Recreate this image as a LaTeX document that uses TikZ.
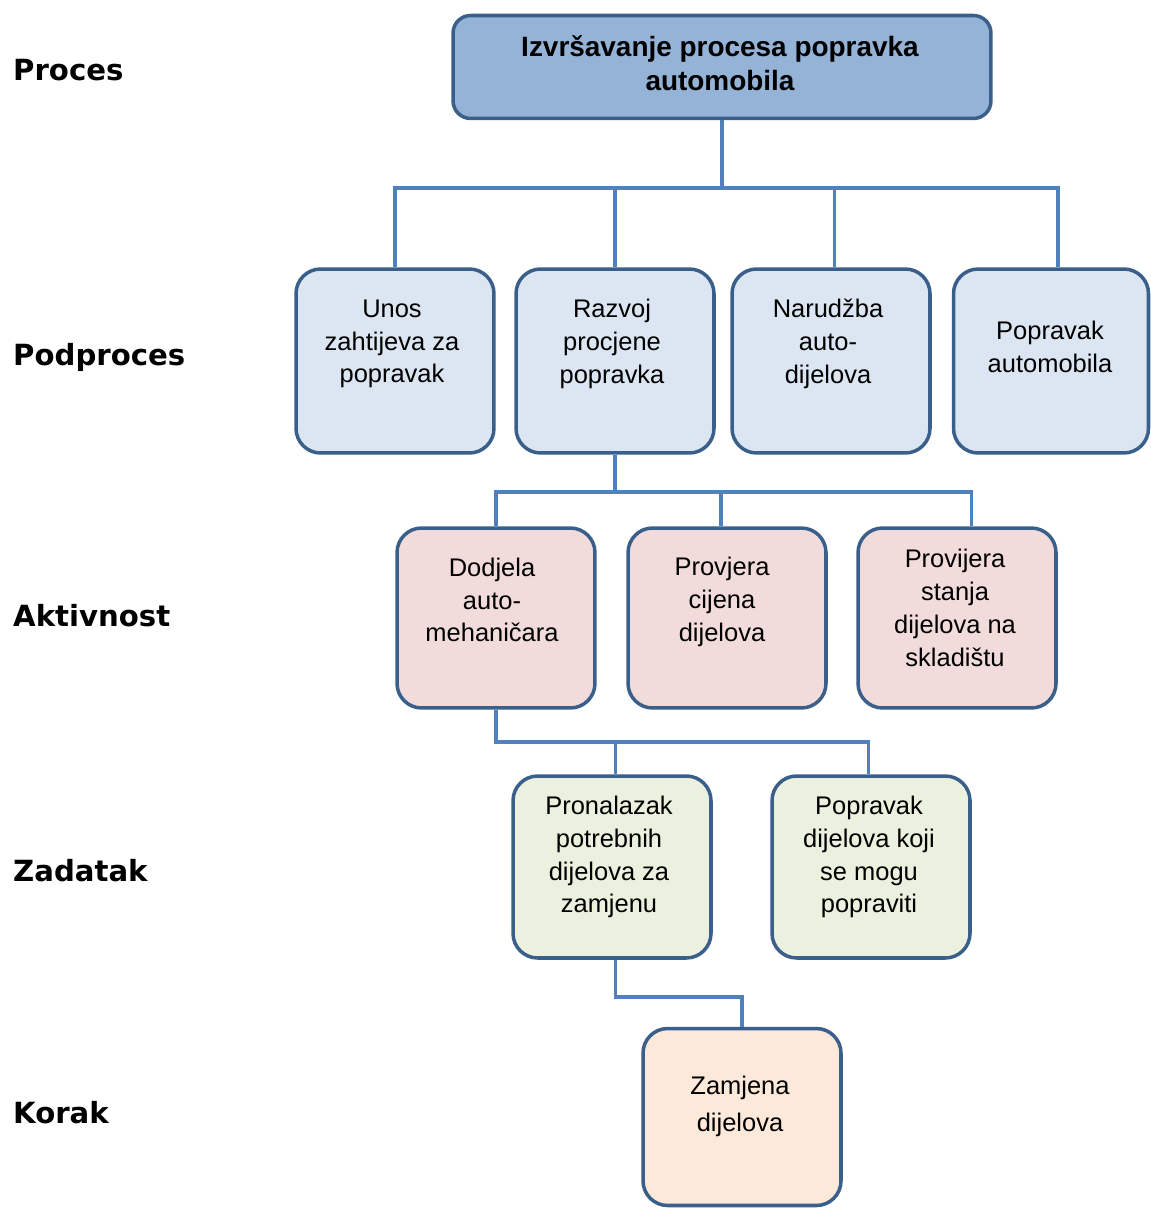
\documentclass[tikz,border=0pt]{standalone}
\usepackage{fontspec}
\setmainfont{Liberation Sans}
\newfontfamily\lvlfont{DejaVu Sans}
\usetikzlibrary{calc}
\definecolor{boxline}{HTML}{3A5F8B}
\definecolor{connline}{HTML}{4F81BD}
\definecolor{procfill}{HTML}{95B3D7}
\definecolor{podfill}{HTML}{DCE6F2}
\definecolor{aktfill}{HTML}{F2DCDB}
\definecolor{zadfill}{HTML}{EBF1DE}
\definecolor{korfill}{HTML}{FDE9D9}

\begin{document}
\begin{tikzpicture}[x=0.02cm,y=-0.02cm,
  stepbox/.style={draw=boxline,line width=2pt,rounded corners=14pt,minimum width=3.96cm},
  boxtext/.style={align=center,font=\fontsize{14.5}{18.7}\selectfont},
  conn/.style={connline,line width=2pt},
  level/.style={anchor=base west,font=\lvlfont\bfseries\fontsize{16.6}{20}\selectfont}]
\useasboundingbox (0,0) rectangle (1151,1209);

% razine
\node[level] (lproces) at (7,81) {Proces};
\node[level] (lpodproces) at (7,365) {Podproces};
\node[level] (laktivnost) at (7,626) {Aktivnost};
\node[level] (lzadatak) at (7,881) {Zadatak};
\node[level] (lkorak) at (7,1123) {Korak};

% proces
\node[stepbox,fill=procfill,rounded corners=10pt,minimum width=10.76cm,minimum height=2.06cm] (top) at (722,67) {};
\node[boxtext,font=\bfseries\fontsize{15.9}{19.3}\selectfont] (top-t) at (720,63) {Izvršavanje procesa popravka\\automobila};

% podprocesi
\node[stepbox,fill=podfill,minimum height=3.68cm] (unos) at (395,361) {};
\node[stepbox,fill=podfill,minimum height=3.68cm] (razvoj) at (615,361) {};
\node[stepbox,fill=podfill,minimum height=3.68cm] (narudzba) at (831,361) {};
\node[stepbox,fill=podfill,minimum height=3.68cm,minimum width=3.9cm] (popravak) at (1051,361) {};
\node[boxtext] (unos-t) at (392,344) {Unos\\zahtijeva za\\popravak};
\node[boxtext] (razvoj-t) at (612,344) {Razvoj\\procjene\\popravka};
\node[boxtext] (narudzba-t) at (828,344) {Narudžba\\auto-\\dijelova};
\node[boxtext] (popravak-t) at (1050,347) {Popravak\\automobila};

% aktivnosti
\node[stepbox,fill=aktfill,minimum height=3.6cm] (dodjela) at (496,618) {};
\node[stepbox,fill=aktfill,minimum height=3.6cm] (provjera) at (727,618) {};
\node[stepbox,fill=aktfill,minimum height=3.6cm] (provijera) at (957,618) {};
\node[boxtext] (dodjela-t) at (492,600) {Dodjela\\auto-\\mehaničara};
\node[boxtext] (provjera-t) at (722,602) {Provjera\\cijena\\dijelova};
\node[boxtext] (provijera-t) at (955,608) {Provijera\\stanja\\dijelova na\\skladištu};

% zadaci
\node[stepbox,fill=zadfill,minimum height=3.64cm] (pronalazak) at (612,867) {};
\node[stepbox,fill=zadfill,minimum height=3.64cm] (popravakdij) at (871,867) {};
\node[boxtext] (pronalazak-t) at (609,857) {Pronalazak\\potrebnih\\dijelova za\\zamjenu};
\node[boxtext] (popravakdij-t) at (869,857) {Popravak\\dijelova koji\\se mogu\\popraviti};

% korak
\node[stepbox,fill=korfill,minimum height=3.54cm] (zamjena) at (742,1117) {};
\node[boxtext,font=\fontsize{14.5}{21}\selectfont] (zamjena-t) at (740,1106) {Zamjena\\dijelova};

% veze
\coordinate (bus1) at (722,188);
\foreach \c/\s in {unos/0pt,razvoj/0pt,narudzba/2pt,popravak/4pt}
  \draw[conn] (top.south) |- (bus1) -| ([xshift=\s]\c.north);
\coordinate (bus2) at (615,492);
\foreach \c/\s in {dodjela/0pt,provjera/-3.5pt,provijera/8.2pt}
  \draw[conn] (razvoj.south) |- (bus2) -| ([xshift=\s]\c.north);
\coordinate (bus3) at (496,742);
\foreach \c/\s in {pronalazak/2pt,popravakdij/-1.4pt}
  \draw[conn] (dodjela.south) |- (bus3) -| ([xshift=\s]\c.north);
\coordinate (bus4) at (680,997);
\draw[conn] ([xshift=2pt]pronalazak.south) |- (bus4) -| (zamjena.north);
\end{tikzpicture}
\end{document}
